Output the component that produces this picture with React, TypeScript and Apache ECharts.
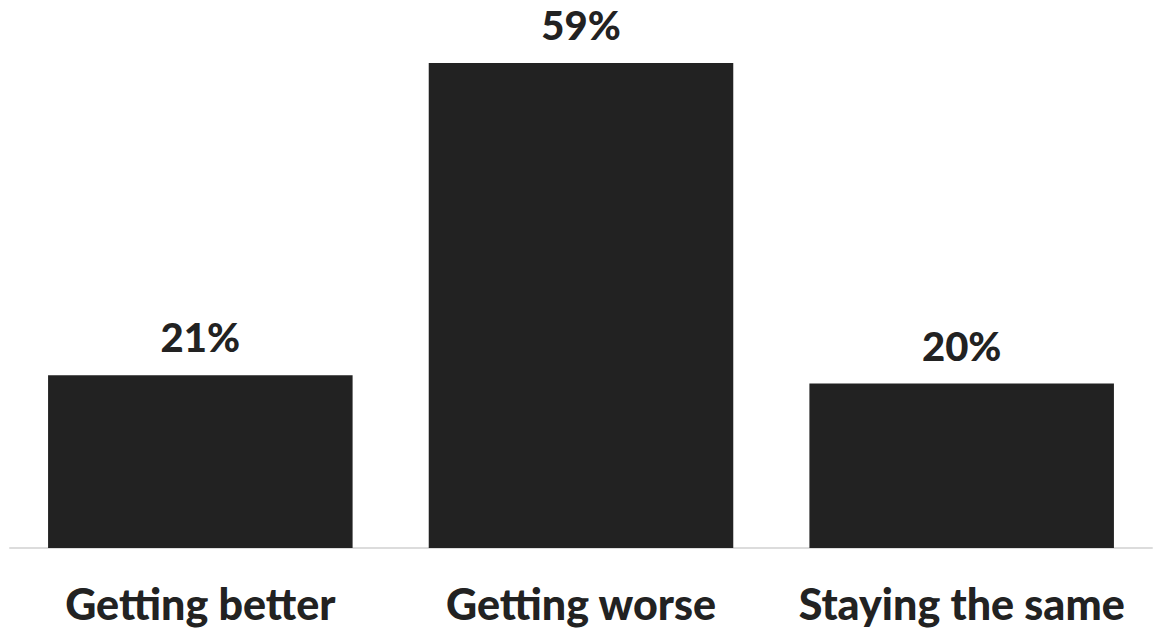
import React, { useEffect, useRef } from "react";
import * as echarts from "echarts";

const categories = ["Getting better", "Getting worse", "Staying the same"];
const values = [21, 59, 20];

export default function App() {
  const ref = useRef<HTMLDivElement>(null);
  useEffect(() => {
    const chart = echarts.init(ref.current!, null, { renderer: "svg" });
    chart.setOption({
      animation: false,
      grid: { left: 10, right: 10, top: 63, bottom: 80, containLabel: false },
      xAxis: {
        type: "category",
        data: categories,
        axisLine: { lineStyle: { color: "#dcdcdc", width: 2 } },
        axisTick: { show: false },
        axisLabel: {
          color: "#222",
          fontFamily: "Lato",
          fontWeight: 900,
          fontSize: 43,
          margin: 34,
          interval: 0,
        },
      },
      yAxis: { type: "value", min: 0, max: 59, show: false, splitLine: { show: false } },
      series: [
        {
          type: "bar",
          data: values,
          barWidth: "80%",
          itemStyle: { color: "#222222" },
          label: {
            show: true,
            position: "top",
            distance: 18,
            formatter: "{c}%",
            color: "#222",
            fontFamily: "Lato",
            fontWeight: 900,
            fontSize: 40,
          },
        },
      ],
    });
    return () => chart.dispose();
  }, []);
  return <div ref={ref} style={{ width: 1162, height: 628, position: "absolute", left: 0, top: 0, background: "#fff" }} />;
}
